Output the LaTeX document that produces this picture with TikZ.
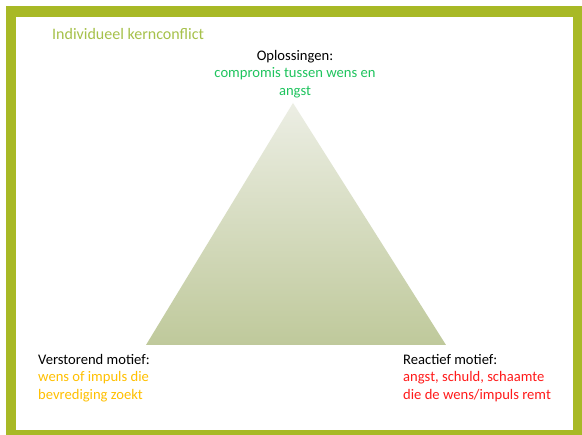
\documentclass[tikz,border=0pt]{standalone}
\usepackage{fontspec}
\setmainfont{Carlito}
\definecolor{kader}{HTML}{A8B926}
\definecolor{titel}{HTML}{A6C14A}
\definecolor{groen}{HTML}{1FC45E}
\definecolor{oranje}{HTML}{FFC000}
\definecolor{rood}{HTML}{FF1A1A}
\definecolor{topkleur}{HTML}{ECEEE4}
\definecolor{voetkleur}{HTML}{BFC99B}

\begin{document}
\begin{tikzpicture}[x=1pt,y=-1pt,
    tekst/.style={font=\fontsize{14.6}{17.5}\selectfont,align=left,inner sep=0pt}]
    \useasboundingbox (0,0) rectangle (582,435);
    % kader
    \fill[kader] (6,6) rectangle (582,435);
    \fill[white] (16,17) rectangle (573,430);
    % driehoek
    \path
      coordinate (top) at (293,103)
      coordinate (links) at (146,345)
      coordinate (rechts) at (446,345);
    \shade[top color=topkleur,bottom color=voetkleur] (top)--(links)--(rechts)--cycle;
    \node[tekst,anchor=west,text=titel,font=\fontsize{16}{19}\selectfont] (titel) at (52,34) {Individueel kernconflict};
    \node[tekst,anchor=north,align=center] (opl) at (295,50)
      {Oplossingen:\\\textcolor{groen}{compromis tussen wens en}\\\textcolor{groen}{angst}};
    \node[tekst,anchor=north west] (verst) at (38,354)
      {Verstorend motief:\\\textcolor{oranje}{wens of impuls die}\\\textcolor{oranje}{bevrediging zoekt}};
    \node[tekst,anchor=north west] (react) at (403,354)
      {Reactief motief:\\\textcolor{rood}{angst, schuld, schaamte}\\\textcolor{rood}{die de wens/impuls remt}};
  \end{tikzpicture}
\end{document}
